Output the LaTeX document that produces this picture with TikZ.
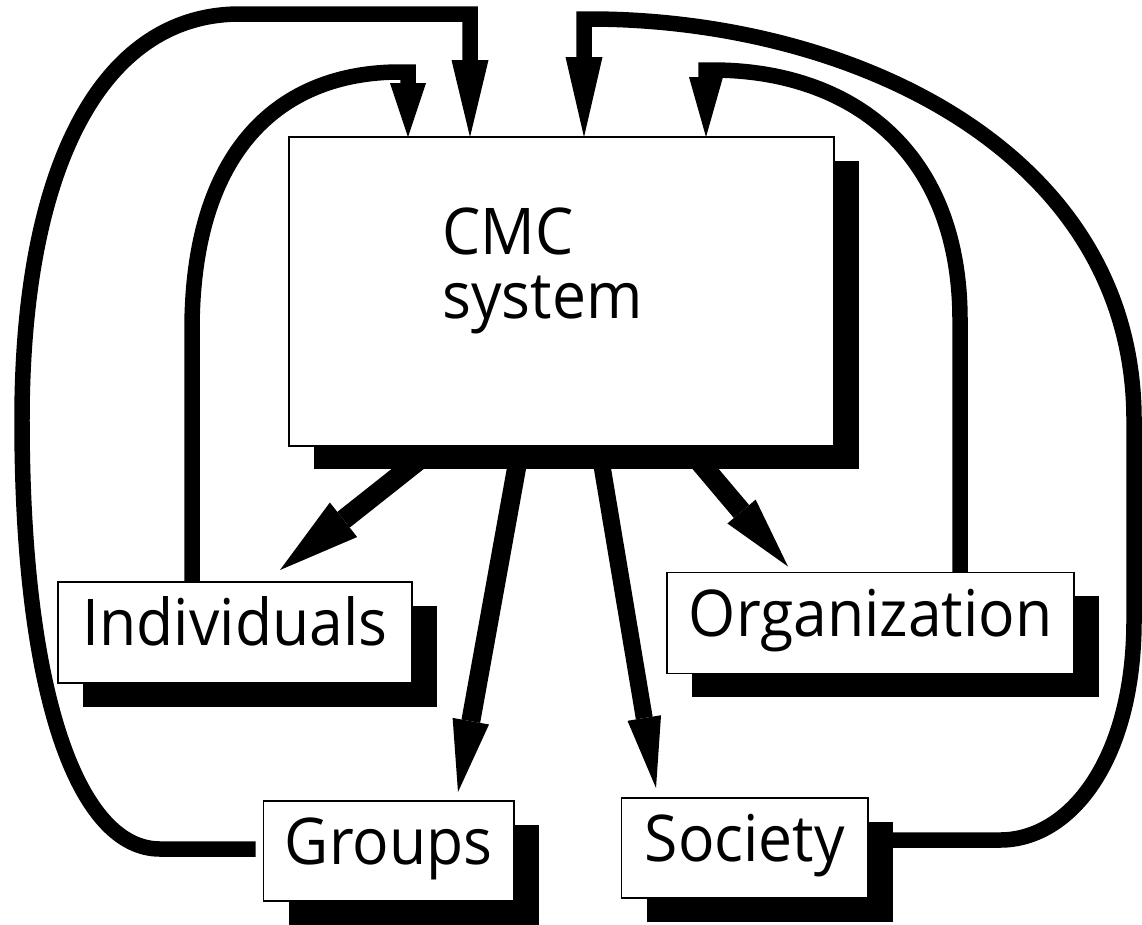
\documentclass[tikz,border=0pt]{standalone}
\usepackage{fontspec}
\setmainfont{Open Sans}[FakeStretch=0.94]
\usetikzlibrary{arrows.meta,shadows,calc}
\begin{document}
\begin{tikzpicture}[x=0.02cm,y=-0.02cm,
  box/.style={draw, line width=0.8pt, fill=white, inner sep=0pt, outer sep=0pt,
    drop shadow={shadow xshift=0.5cm, shadow yshift=-0.47cm, fill=black, opacity=1, draw=none}},
  lbl/.style={font=\fontsize{36.7}{44}\selectfont, text height=27pt, text depth=12.2pt},
  loopline/.style={line width=0.31cm, line join=miter},
  arrowtip/.style 2 args={-{Triangle[length=#1,width=#2,line width=0pt]}},
]
\useasboundingbox (0,0) rectangle (1142,924);

% boxes
\node[box, minimum width=10.9cm, minimum height=6.18cm] (cmc) at (561.5,291.5) {};
\node[font=\fontsize{36.7}{36.4}\selectfont, align=left, anchor=base west, inner sep=0pt] (cmctext) at (442,318) {CMC\\system};
\node[box, lbl, minimum width=7.08cm, minimum height=2.02cm] (ind) at (235,632.5) {Individuals};
\node[box, lbl, minimum width=8.14cm, minimum height=2.02cm] (org) at (870.5,623) {Organization};
\node[box, lbl, minimum width=5.01cm, minimum height=2cm] (grp) at (388.75,851) {Groups};
\node[box, lbl, minimum width=4.93cm, minimum height=2cm] (soc) at (744.75,848) {Society};

% feedback loops into the CMC system
\draw[loopline, arrowtip={1.08cm}{0.72cm}] (192,0 |- ind.north) -- (192,330)
  .. controls (192,150) and (280,72) .. (400,72) -- (408,72) -- (408,0 |- cmc.north);
\draw[loopline, arrowtip={1.54cm}{0.74cm}] ($(grp.west)+(-8,-2)$) -- (160,849)
  .. controls (80,849) and (22,700) .. (22,420)
  .. controls (22,170) and (100,14) .. (240,14) -- (470,14) -- (470,0 |- cmc.north);
\draw[loopline, arrowtip={1.6cm}{0.74cm}] ($(soc.east)+(25,-8)$) -- (1000,840)
  .. controls (1070,840) and (1134,760) .. (1134,620) -- (1134,420)
  .. controls (1134,150) and (850,19) .. (589,19) -- (584,19) -- (584,0 |- cmc.north);
\draw[loopline, arrowtip={1.2cm}{0.68cm}] (960,0 |- org.north) -- (960,320)
  .. controls (960,150) and (850,70) .. (712,70) -- (706,70) -- (706,0 |- cmc.north);

% outgoing arrows
\coordinate (s1) at (419,460);
\coordinate (s2) at (518,460);
\coordinate (s3) at (601,460);
\coordinate (s4) at (698,460);
\draw[line width=0.4cm, arrowtip={1.62cm}{0.88cm}] (s1) -- ($(280,0 |- ind.north)+(0,-12)$);
\draw[line width=0.38cm, arrowtip={1.44cm}{0.74cm}] (s2) -- ($(458,0 |- grp.north)+(0,-9)$);
\draw[line width=0.34cm, arrowtip={1.42cm}{0.68cm}] (s3) -- ($(656,0 |- soc.north)+(0,-10)$);
\draw[line width=0.4cm, arrowtip={1.44cm}{0.74cm}] (s4) -- ($(788,0 |- org.north)+(0,-6)$);
\end{tikzpicture}
\end{document}
